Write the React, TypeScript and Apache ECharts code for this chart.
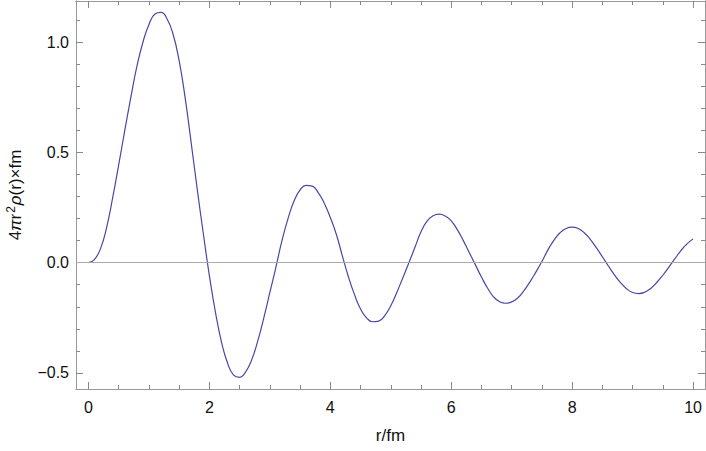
import React, { useEffect, useRef } from "react";
import * as echarts from "echarts";

const rValues = [
  0, 0.1, 0.2, 0.3, 0.4, 0.5, 0.6, 0.7, 0.8, 0.9, 1.0, 1.1, 1.2, 1.3, 1.4, 1.5, 1.6, 1.7, 1.8, 1.9,
  2.0, 2.1, 2.2, 2.3, 2.4, 2.5, 2.6, 2.7, 2.8, 2.9, 3.0, 3.1, 3.2, 3.3, 3.4, 3.5, 3.6, 3.7, 3.8, 3.9,
  4.0, 4.1, 4.2, 4.3, 4.4, 4.5, 4.6, 4.7, 4.8, 4.9, 5.0, 5.1, 5.2, 5.3, 5.4, 5.5, 5.6, 5.7, 5.8, 5.9,
  6.0, 6.1, 6.2, 6.3, 6.4, 6.5, 6.6, 6.7, 6.8, 6.9, 7.0, 7.1, 7.2, 7.3, 7.4, 7.5, 7.6, 7.7, 7.8, 7.9,
  8.0, 8.1, 8.2, 8.3, 8.4, 8.5, 8.6, 8.7, 8.8, 8.9, 9.0, 9.1, 9.2, 9.3, 9.4, 9.5, 9.6, 9.7, 9.8, 9.9, 10.0,
];
const densityValues = [
  0, 0.015, 0.065, 0.16, 0.295, 0.445, 0.6, 0.75, 0.89, 1.0, 1.08, 1.128, 1.135, 1.105, 1.035, 0.915, 0.745, 0.54, 0.33, 0.13,
  -0.06, -0.225, -0.36, -0.455, -0.51, -0.52, -0.495, -0.44, -0.355, -0.25, -0.135, -0.02, 0.1, 0.2, 0.28, 0.33, 0.351, 0.347, 0.318, 0.27,
  0.205, 0.128, 0.03, -0.065, -0.145, -0.21, -0.25, -0.268, -0.265, -0.24, -0.195, -0.135, -0.068, 0.0, 0.07, 0.14, 0.188, 0.213, 0.22, 0.212,
  0.19, 0.15, 0.1, 0.045, -0.01, -0.065, -0.115, -0.155, -0.177, -0.184, -0.178, -0.16, -0.128, -0.088, -0.043, 0.005, 0.058, 0.102, 0.136, 0.155,
  0.161, 0.155, 0.136, 0.106, 0.068, 0.027, -0.015, -0.055, -0.09, -0.118, -0.135, -0.14, -0.134, -0.117, -0.09, -0.057, -0.02, 0.018, 0.055, 0.085, 0.108,
];

const xMajorTicks = [0, 2, 4, 6, 8, 10];
const xMinorTicks = [0.5, 1, 1.5, 2.5, 3, 3.5, 4.5, 5, 5.5, 6.5, 7, 7.5, 8.5, 9, 9.5];
const yMajorTicks = [-0.5, 0, 0.5, 1.0];
const yMinorTicks = [-0.4, -0.3, -0.2, -0.1, 0.1, 0.2, 0.3, 0.4, 0.6, 0.7, 0.8, 0.9, 1.1];

const X_MIN = -0.207;
const X_MAX = 10.198;
const Y_MIN = -0.573;
const Y_MAX = 1.187;

const FONT = "'Liberation Sans', Arial, Helvetica, sans-serif";
const FRAME = "#999999";
const TICK = "#888888";

const fmt = (v: number) => (v < 0 ? "\u2212" + Math.abs(v).toFixed(1) : v.toFixed(1));

function makeX(position: "bottom" | "top", ticks: number[], len: number, labels: boolean, name?: string): any {
  return {
    type: "value",
    position,
    min: X_MIN,
    max: X_MAX,
    name: name,
    nameLocation: "middle",
    nameGap: 38,
    nameTextStyle: { fontFamily: FONT, fontSize: 17, color: "#111" },
    axisLine: { show: true, onZero: false, lineStyle: { color: FRAME, width: 1 } },
    axisTick: { show: true, inside: true, length: len, customValues: ticks, lineStyle: { color: TICK, width: 1 } },
    axisLabel: labels
      ? { show: true, customValues: ticks, fontFamily: FONT, fontSize: 16, color: "#111", margin: 10, formatter: (v: number) => String(v) }
      : { show: false },
    splitLine: { show: false },
  };
}

function makeY(position: "left" | "right", ticks: number[], len: number, labels: boolean, name?: any): any {
  return {
    type: "value",
    position,
    min: Y_MIN,
    max: Y_MAX,
    name: name,
    nameLocation: "middle",
    nameRotate: 90,
    nameGap: 51,
    nameTextStyle: {
      fontFamily: FONT,
      fontSize: 17,
      color: "#111",
      rich: {
        a: { fontFamily: FONT, fontSize: 17, color: "#111" },
        i: { fontFamily: FONT, fontSize: 17, color: "#111", fontStyle: "italic" },
        s: { fontFamily: FONT, fontSize: 12, color: "#111", verticalAlign: "top", padding: [0, 1, 8, 1] },
      },
    },
    axisLine: { show: true, onZero: false, lineStyle: { color: FRAME, width: 1 } },
    axisTick: { show: true, inside: true, length: len, customValues: ticks, lineStyle: { color: TICK, width: 1 } },
    axisLabel: labels
      ? { show: true, customValues: ticks, fontFamily: FONT, fontSize: 16, color: "#111", margin: 7, formatter: fmt }
      : { show: false },
    splitLine: { show: false },
  };
}

export default function App() {
  const ref = useRef<HTMLDivElement>(null);
  useEffect(() => {
    if (!ref.current) return;
    const chart = echarts.init(ref.current, null, { renderer: "svg" });
    const data = rValues.map((r, i) => [r, densityValues[i]]);
    chart.setOption({
      animation: false,
      backgroundColor: "#ffffff",
      grid: { left: 76, right: 1, top: 1, bottom: 62, containLabel: false, outerBoundsMode: "none" },
      xAxis: [
        makeX("bottom", xMajorTicks, 7, true, "r/fm"),
        makeX("bottom", xMinorTicks, 4, false),
        makeX("top", xMajorTicks, 7, false),
        makeX("top", xMinorTicks, 4, false),
      ],
      yAxis: [
        makeY("left", yMajorTicks, 7, true, "{a|4}{i|π}{a|r}{s|2}{i|ρ}{a|(r)×fm}"),
        makeY("left", yMinorTicks, 4, false),
        makeY("right", yMajorTicks, 7, false),
        makeY("right", yMinorTicks, 4, false),
      ],
      series: [
        {
          type: "line",
          xAxisIndex: 0,
          yAxisIndex: 0,
          data,
          showSymbol: false,
          smooth: 0.5,
          lineStyle: { color: "#4848a4", width: 1.2 },
          markLine: {
            silent: true,
            symbol: "none",
            label: { show: false },
            lineStyle: { color: "#aaaaaa", width: 1.2, type: "solid" },
            data: [{ yAxis: 0 }],
          },
        },
      ],
    });
    return () => chart.dispose();
  }, []);
  return <div ref={ref} style={{ position: "absolute", left: 0, top: 0, width: 706, height: 451 }} />;
}
